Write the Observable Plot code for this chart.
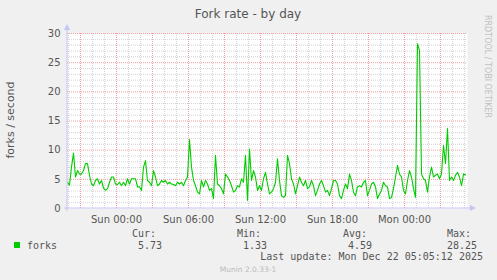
<!DOCTYPE html>
<html><head><meta charset="utf-8">
<script src="https://cdn.jsdelivr.net/npm/d3@7"></script>
<script src="https://cdn.jsdelivr.net/npm/@observablehq/plot@0.6"></script>
<style>
html,body{margin:0;padding:0;background:#f0f0f0;}
#chart{width:497px;height:280px;overflow:hidden;}
</style></head><body><div id="chart"></div>
<script>
const title = "Fork rate - by day";
const yLabel = "forks / second";
const seriesName = "forks";
const startTime = new Date(Date.UTC(2025, 11, 20, 19, 55));
const endTime = new Date(Date.UTC(2025, 11, 22, 5, 15));
const stepMinutes = 10;
const forks = [
  4.5, 4.0, 7.1, 9.5, 5.4, 6.5, 5.9, 5.9, 6.5, 7.7, 7.7, 5.7, 4.2, 3.9, 4.8, 5.1, 4.2, 4.8, 3.5, 3.1,
  3.4, 4.5, 5.4, 5.4, 4.2, 4.1, 4.5, 3.9, 4.5, 3.9, 5.1, 4.2, 5.1, 5.1, 5.1, 3.7, 3.7, 3.1, 7.1, 8.2,
  4.8, 4.5, 3.9, 6.5, 5.4, 3.9, 4.2, 4.8, 4.5, 4.8, 4.2,
  4.5, 4.2, 4.1, 3.9, 4.5, 4.2, 4.5, 3.9, 4.8, 5.4, 11.8, 7.1, 4.8, 3.9, 2.8, 2.5, 4.8, 3.7, 4.8, 4.2,
  3.1, 3.4, 1.7, 9.1, 4.2, 3.9, 3.4, 2.5, 5.9, 5.4, 4.8, 3.9, 2.8, 3.1, 3.9, 3.7, 5.1, 4.5, 9.1, 1.4,
  10.2, 4.8, 6.5, 5.4, 3.1, 3.9, 3.1, 5.1, 6.2, 4.2, 2.5,
  2.8, 3.4, 4.5, 8.5, 4.8, 2.2, 1.9, 2.2, 9.1, 7.7, 5.1, 4.2, 2.5, 3.9, 5.4, 4.5, 3.9, 4.8, 3.4, 3.7,
  4.8, 3.9, 2.2, 3.1, 4.2, 4.8, 3.9, 2.8, 3.1, 2.2, 3.4, 4.8, 4.8, 4.2, 2.2, 1.7, 3.1, 4.2, 3.4, 5.9,
  4.8, 2.8, 2.2, 3.7, 3.9, 3.7, 4.5, 4.8, 2.2, 3.1, 4.2,
  4.5, 3.7, 1.7, 2.5, 3.1, 4.5, 3.9, 3.7, 1.7, 1.9, 3.4, 5.4, 7.4, 5.9, 5.4, 3.1, 2.5, 4.8, 6.5, 5.4,
  3.4, 1.9, 28.25, 27.1, 5.9, 5.1, 4.8, 2.8, 5.4, 7.1, 5.4, 5.7, 5.9, 5.1, 5.9, 10.8, 7.7, 13.7, 4.8, 5.4,
  4.8, 5.7, 6.2, 5.4, 3.9, 5.9, 5.73
];
const yTicks = [0, 5, 10, 15, 20, 25, 30];
const xTickTimes = [
  new Date(Date.UTC(2025, 11, 21, 0)), new Date(Date.UTC(2025, 11, 21, 6)),
  new Date(Date.UTC(2025, 11, 21, 12)), new Date(Date.UTC(2025, 11, 21, 18)),
  new Date(Date.UTC(2025, 11, 22, 0))
];
const xTickLabels = ["Sun 00:00", "Sun 06:00", "Sun 12:00", "Sun 18:00", "Mon 00:00"];
const statLabels = ["Cur:", "Min:", "Avg:", "Max:"];
const statValues = ["5.73", "1.33", "4.59", "28.25"];
const lastUpdate = "Last update: Mon Dec 22 05:05:12 2025";
const footer = "Munin 2.0.33-1";
const watermark = "RRDTOOL / TOBI OETIKER";

const data = forks.map((v, i) => ({t: new Date(+startTime + i * stepMinutes * 60000), v}));
const hours = d3.utcHour.range(startTime, endTime);
const minorX = hours.filter(d => d.getUTCHours() % 3 !== 0);
const majorX = hours.filter(d => d.getUTCHours() % 3 === 0);
const minorY = d3.range(1, 30).filter(d => d % 5 !== 0);
const majorY = yTicks.filter(d => d > 0);
const labelOf = new Map(xTickTimes.map((d, i) => [+d, xTickLabels[i]]));

const W = 497, H = 280, ML = 67, MR = 30, MT = 33, MB = 72;
const plot = Plot.plot({
  width: W, height: H, marginLeft: ML, marginRight: MR, marginTop: MT, marginBottom: MB,
  style: {background: "#f0f0f0", fontFamily: "DejaVu Sans", fontSize: "10px", color: "#555", overflow: "visible"},
  x: {type: "utc", domain: [startTime, endTime]},
  y: {domain: [0, 30]},
  marks: [
    Plot.frame({fill: "white", stroke: "none"}),
    Plot.ruleX(minorX, {stroke: "#d4d4d4", strokeDasharray: "1,1"}),
    Plot.ruleY(minorY, {stroke: "#d4d4d4", strokeDasharray: "1,1"}),
    Plot.ruleX(majorX, {stroke: "#f2a0a0", strokeDasharray: "1,1"}),
    Plot.ruleY(majorY, {stroke: "#f2a0a0", strokeDasharray: "1,1"}),
    Plot.axisX({ticks: xTickTimes, tickFormat: d => labelOf.get(+d), tickSize: 0, tickPadding: 7, label: null, fill: "#555"}),
    Plot.axisY({ticks: yTicks, tickSize: 0, tickPadding: 7, label: null, fill: "#555"}),
    Plot.line(data, {x: "t", y: "v", stroke: "#00cc00", strokeWidth: 1.1})
  ]
});
document.getElementById("chart").appendChild(plot);

const svg = d3.select(plot);
const x0 = ML, x1 = W - MR, y0 = H - MB, y1 = MT;
const axisColor = "#c4c4f4";
// axis lines with arrows
svg.append("line").attr("x1", x0).attr("x2", x0).attr("y1", y0 + 3).attr("y2", y1 - 4)
  .attr("stroke", axisColor).attr("stroke-width", 1);
svg.append("path").attr("d", `M${x0 - 3},${y1 - 3}L${x0},${y1 - 9}L${x0 + 3},${y1 - 3}Z`).attr("fill", axisColor);
svg.append("line").attr("x1", x0 - 3).attr("x2", x1 + 4).attr("y1", y0).attr("y2", y0)
  .attr("stroke", axisColor).attr("stroke-width", 1);
svg.append("path").attr("d", `M${x1 + 3},${y0 - 3}L${x1 + 9},${y0}L${x1 + 3},${y0 + 3}Z`).attr("fill", axisColor);

// title
svg.append("text").attr("x", 248).attr("y", 18).attr("text-anchor", "middle")
  .attr("font-family", "DejaVu Sans").attr("font-size", 12).attr("fill", "#555").text(title);
// y label
svg.append("text").attr("transform", "translate(14,120) rotate(-90)").attr("text-anchor", "middle")
  .attr("font-family", "DejaVu Sans").attr("font-size", 11).attr("fill", "#555").text(yLabel);
// watermark
svg.append("text").attr("transform", "translate(485,15) rotate(90)").attr("text-anchor", "start")
  .attr("font-family", "DejaVu Sans").attr("font-size", 8).attr("fill", "#c0c0c0").text(watermark);

// legend
const mono = "DejaVu Sans Mono";
svg.append("rect").attr("x", 14).attr("y", 242).attr("width", 6).attr("height", 6).attr("fill", "#00cc00");
svg.append("text").attr("x", 27).attr("y", 249).attr("text-anchor", "start").attr("font-family", mono).attr("font-size", 10).attr("fill", "#555").text(seriesName);
const headX = [132, 237, 343, 447];
const valEnd = [162, 267, 372, 477];
statLabels.forEach((s, i) => {
  svg.append("text").attr("x", headX[i]).attr("y", 237).attr("text-anchor", "start").attr("font-family", mono).attr("font-size", 10).attr("fill", "#555").text(s);
  svg.append("text").attr("x", valEnd[i]).attr("y", 249).attr("text-anchor", "end").attr("font-family", mono).attr("font-size", 10).attr("fill", "#555").text(statValues[i]);
});
svg.append("text").attr("x", 483).attr("y", 260).attr("text-anchor", "end").attr("font-family", mono).attr("font-size", 10).attr("fill", "#555").text(lastUpdate);
svg.append("text").attr("x", 248).attr("y", 272).attr("text-anchor", "middle").attr("font-family", "DejaVu Sans").attr("font-size", 7.5).attr("fill", "#bbb").text(footer);
</script>
</body></html>
